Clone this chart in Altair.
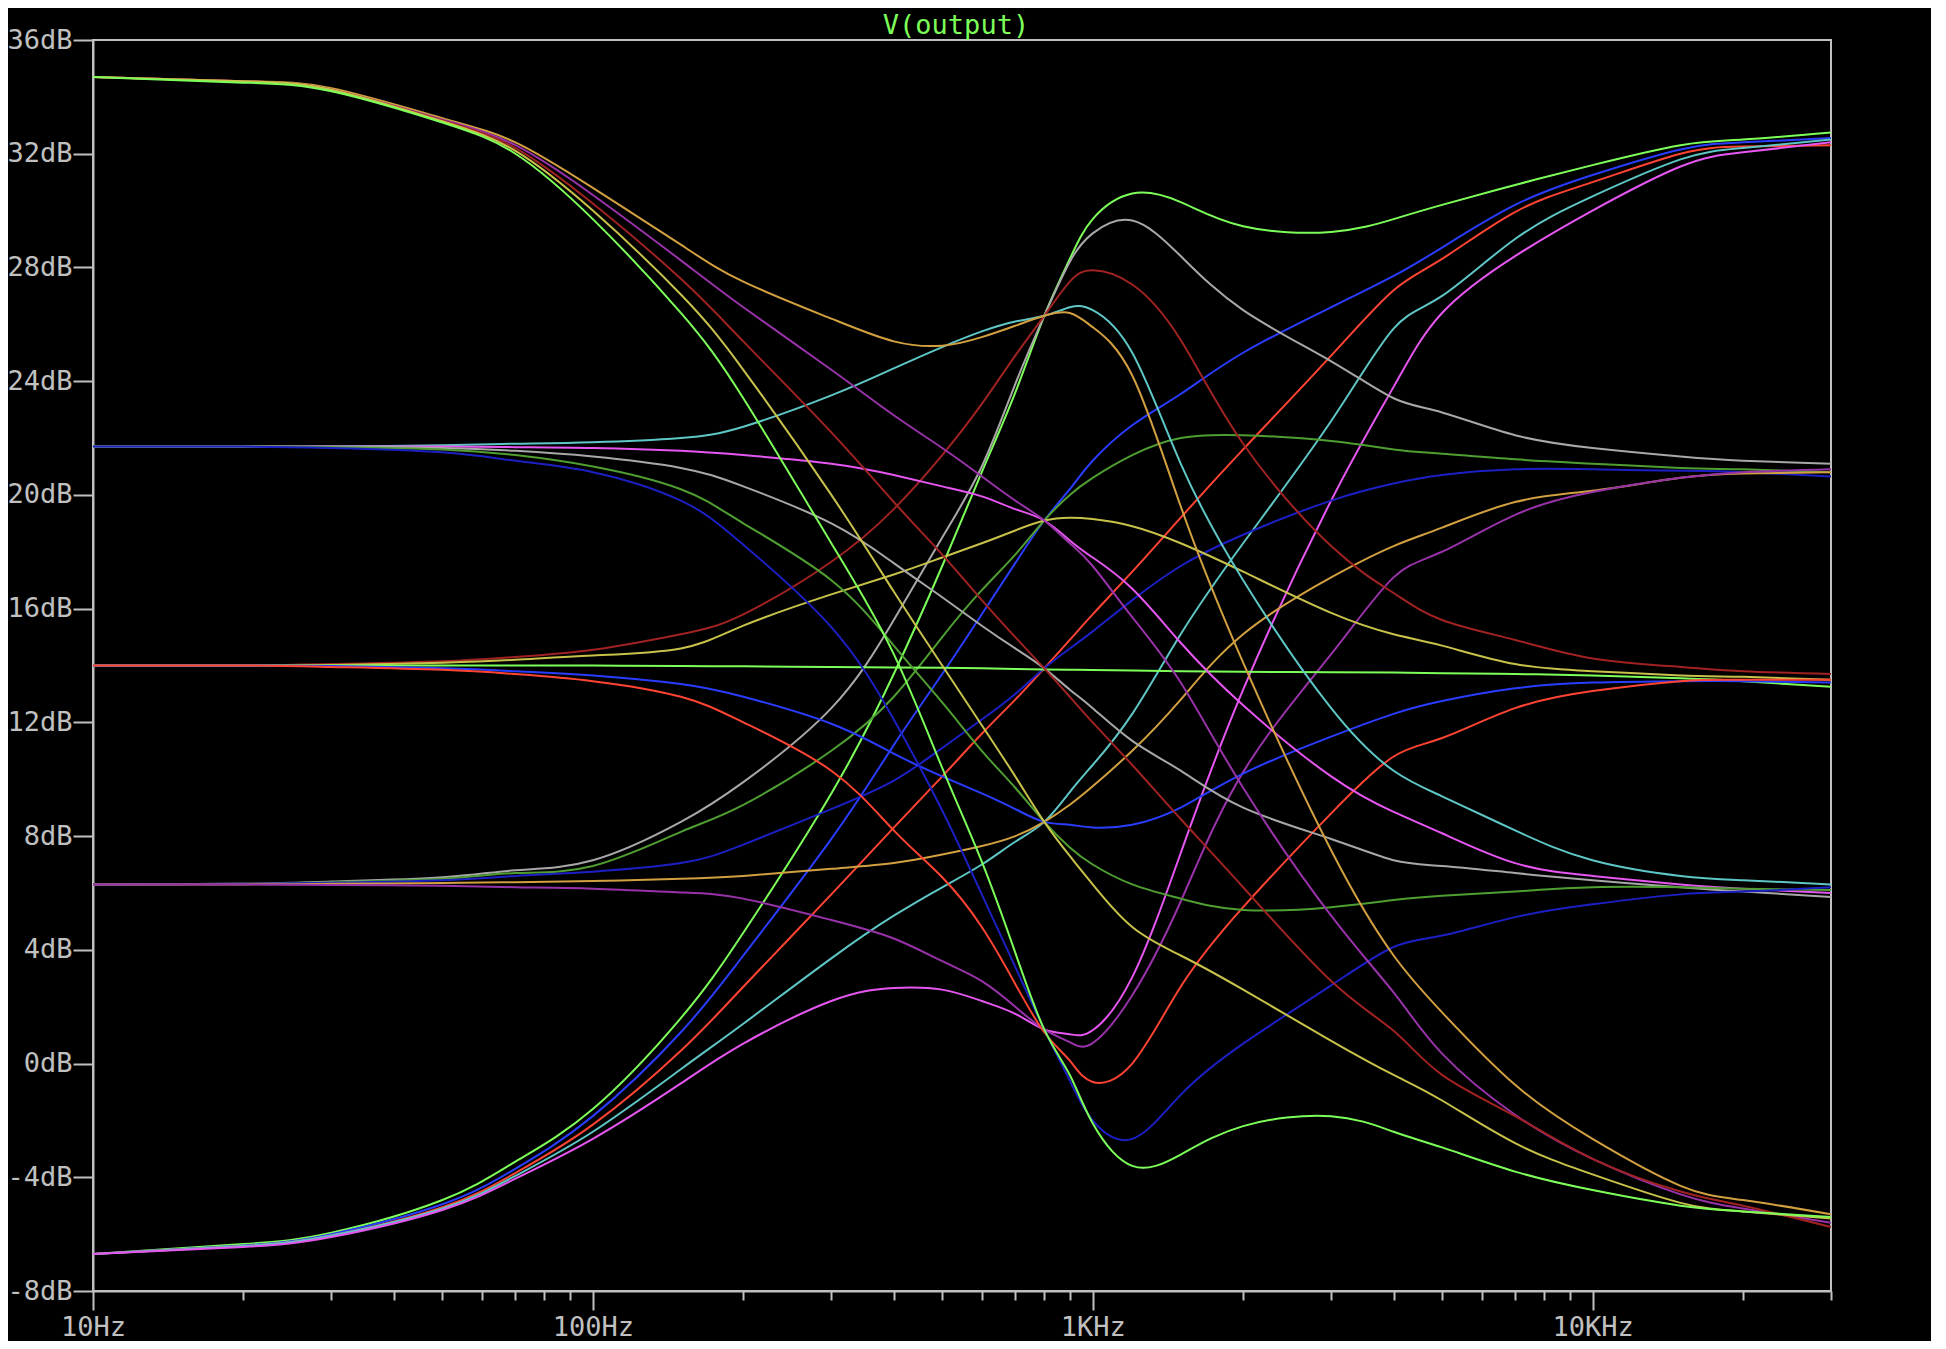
import altair as alt
import pandas as pd

# ---------------- data ----------------
FREQ = [10, 20, 30, 50, 70, 100, 150, 200, 300, 400, 500, 600, 700, 800, 900,
        1000, 1200, 1500, 2000, 3000, 4000, 5000, 7000, 10000, 15000, 20000, 30000]

# start level -6.7 dB
S00 = [-6.7, -6.35, -5.95, -4.8, -3.45, -1.6, 1.6, 4.6, 9.5, 13.7, 17.5, 20.8, 23.6, 26.3, 28.3,
       29.7, 30.6, 30.3, 29.45, 29.25, 29.7, 30.2, 30.9, 31.6, 32.3, 32.5, 32.75]
S01 = [-6.7, -6.4, -6.0, -4.95, -3.7, -1.85, 1.1, 3.8, 7.9, 11.2, 13.7, 15.8, 17.6, 19.1, 20.2,
       21.2, 22.45, 23.55, 25.0, 26.6, 27.7, 28.7, 30.2, 31.25, 32.15, 32.4, 32.55]
S02 = [-6.7, -6.42, -6.05, -5.05, -3.85, -2.15, 0.45, 2.7, 5.95, 8.3, 10.1, 11.6, 12.8, 13.9, 14.9,
       15.8, 17.3, 19.2, 21.6, 24.9, 27.2, 28.3, 29.95, 31.0, 32.0, 32.25, 32.3]
S03 = [-6.7, -6.42, -6.05, -5.1, -3.95, -2.4, -0.2, 1.4, 3.7, 5.2, 6.2, 7.0, 7.8, 8.5, 9.55,
       10.5, 12.3, 15.1, 18.3, 22.6, 25.85, 27.0, 29.0, 30.5, 31.8, 32.2, 32.5]
S04 = [-6.7, -6.45, -6.1, -5.15, -4.05, -2.65, -0.7, 0.7, 2.2, 2.66, 2.6, 2.2, 1.75, 1.2, 1.03,
       1.17, 3.04, 7.4, 13.15, 19.8, 23.8, 26.4, 28.4, 30.0, 31.55, 32.05, 32.4]
# start level 6.3 dB
S05 = [6.3, 6.32, 6.4, 6.55, 6.8, 7.15, 8.5, 9.9, 12.5, 15.6, 18.5, 21.0, 23.9, 26.3, 28.2,
       29.2, 29.65, 28.4, 26.5, 24.7, 23.4, 22.9, 22.1, 21.65, 21.35, 21.2, 21.1]
S06 = [6.3, 6.32, 6.38, 6.5, 6.7, 6.95, 8.15, 9.1, 11.0, 12.9, 15.0, 16.65, 17.9, 19.1, 20.0,
       20.6, 21.4, 22.0, 22.1, 21.9, 21.6, 21.45, 21.25, 21.1, 20.95, 20.9, 20.8]
S07 = [6.3, 6.32, 6.36, 6.45, 6.6, 6.75, 7.05, 7.7, 8.95, 9.95, 11.1, 12.1, 13.0, 13.9, 14.6,
       15.2, 16.3, 17.5, 18.6, 19.8, 20.4, 20.7, 20.9, 20.9, 20.85, 20.8, 20.65]
S08 = [6.3, 6.3, 6.32, 6.35, 6.38, 6.42, 6.5, 6.6, 6.85, 7.05, 7.35, 7.65, 8.0, 8.5, 9.1,
       9.75, 11.0, 12.8, 15.1, 17.1, 18.2, 18.85, 19.75, 20.15, 20.6, 20.75, 20.8]
S09 = [6.3, 6.3, 6.28, 6.25, 6.2, 6.15, 6.02, 5.8, 5.05, 4.4, 3.6, 2.9, 2.0, 1.2, 0.75,
       0.72, 2.4, 5.7, 10.25, 14.4, 17.1, 18.0, 19.3, 20.1, 20.6, 20.8, 20.9]
# start level 14 dB
S10 = [14.0, 14.0, 14.05, 14.15, 14.3, 14.55, 15.1, 15.8, 17.65, 19.5, 21.4, 23.2, 24.9, 26.3, 27.5,
       27.9, 27.4, 25.45, 21.8, 18.2, 16.55, 15.6, 14.9, 14.25, 13.95, 13.8, 13.7]
S11 = [14.0, 14.0, 14.02, 14.1, 14.2, 14.35, 14.6, 15.4, 16.5, 17.2, 17.8, 18.3, 18.75, 19.1, 19.2,
       19.15, 18.9, 18.3, 17.3, 15.85, 15.1, 14.7, 14.05, 13.8, 13.65, 13.6, 13.5]
S12 = [14.0, 14.0, 14.0, 14.0, 14.0, 14.0, 13.98, 13.97, 13.95, 13.93, 13.92, 13.9, 13.88, 13.86, 13.85,
       13.84, 13.82, 13.8, 13.78, 13.76, 13.75, 13.73, 13.7, 13.65, 13.55, 13.45, 13.25]
S13 = [14.0, 14.0, 13.98, 13.9, 13.8, 13.65, 13.35, 12.9, 11.95, 10.9, 10.1, 9.5, 8.95, 8.5, 8.4,
       8.3, 8.4, 9.0, 10.2, 11.5, 12.3, 12.75, 13.2, 13.4, 13.45, 13.45, 13.4]
S14 = [14.0, 14.0, 13.95, 13.85, 13.7, 13.45, 12.9, 12.0, 10.3, 8.2, 6.55, 4.8, 2.8, 1.1, 0.1,
       -0.65, 0.0, 2.7, 5.5, 8.8, 10.8, 11.45, 12.5, 13.1, 13.45, 13.5, 13.5]
# start level 21.7 dB
S15 = [21.7, 21.7, 21.7, 21.75, 21.8, 21.85, 22.0, 22.4, 23.5, 24.45, 25.2, 25.75, 26.1, 26.3, 26.6,
       26.5, 25.0, 21.1, 17.0, 12.5, 10.3, 9.4, 8.2, 7.15, 6.6, 6.45, 6.3]
S16 = [21.7, 21.7, 21.7, 21.7, 21.68, 21.65, 21.55, 21.4, 21.1, 20.7, 20.3, 19.95, 19.5, 19.1, 18.4,
       17.8, 16.7, 14.8, 12.6, 10.1, 8.85, 8.1, 7.05, 6.6, 6.3, 6.15, 6.0]
S17 = [21.7, 21.7, 21.7, 21.65, 21.55, 21.35, 20.95, 20.3, 19.0, 17.6, 16.4, 15.4, 14.6, 13.9, 13.15,
       12.5, 11.35, 10.3, 9.0, 7.9, 7.15, 6.95, 6.7, 6.45, 6.2, 6.05, 5.86]
S18 = [21.7, 21.7, 21.68, 21.6, 21.4, 21.0, 20.2, 19.0, 17.0, 14.7, 12.7, 11.0, 9.7, 8.5, 7.6,
       7.0, 6.3, 5.8, 5.4, 5.5, 5.75, 5.9, 6.05, 6.2, 6.2, 6.15, 6.1]
S19 = [21.7, 21.7, 21.65, 21.5, 21.2, 20.8, 19.8, 18.25, 15.35, 12.1, 8.9, 5.95, 3.4, 1.2, -0.6,
       -2.0, -2.65, -1.1, 0.7, 2.75, 4.1, 4.5, 5.15, 5.6, 5.95, 6.05, 6.2]
# start level 34.7 dB
S20 = [34.7, 34.55, 34.3, 33.25, 32.4, 30.8, 28.8, 27.5, 26.2, 25.4, 25.25, 25.55, 25.95, 26.3, 26.4,
       25.9, 24.2, 19.6, 14.1, 7.5, 3.8, 1.8, -0.75, -2.65, -4.3, -4.8, -5.3]
S21 = [34.7, 34.55, 34.25, 33.2, 32.3, 30.55, 28.25, 26.6, 24.4, 22.8, 21.65, 20.65, 19.8, 19.1, 18.3,
       17.5, 15.7, 13.4, 9.7, 5.2, 2.5, 0.35, -1.8, -3.35, -4.6, -5.1, -5.6]
S22 = [34.7, 34.55, 34.25, 33.17, 32.2, 30.25, 27.6, 25.4, 22.2, 19.75, 17.9, 16.3, 15.0, 13.9, 12.9,
       12.0, 10.5, 8.6, 6.2, 2.9, 1.15, -0.4, -1.85, -3.35, -4.5, -5.0, -5.75]
S23 = [34.7, 34.55, 34.25, 33.14, 32.1, 30.0, 27.05, 24.4, 20.0, 16.6, 14.0, 11.9, 10.1, 8.5, 7.3,
       6.3, 4.8, 3.8, 2.6, 0.8, -0.4, -1.3, -2.8, -3.9, -4.9, -5.2, -5.45]
S24 = [34.7, 34.5, 34.2, 33.1, 32.0, 29.7, 26.4, 23.4, 18.3, 14.4, 10.4, 7.1, 3.9, 1.2, -0.4,
       -2.1, -3.6, -3.2, -2.2, -1.85, -2.4, -2.95, -3.8, -4.45, -5.0, -5.2, -5.4]

CURVES = [S00, S01, S02, S03, S04, S05, S06, S07, S08, S09, S10, S11, S12,
          S13, S14, S15, S16, S17, S18, S19, S20, S21, S22, S23, S24]

# LTspice-like trace palette, cycled over the 25 steps
PALETTE = ["#7dff5a", "#2a3cff", "#ff4433", "#5fc6c6", "#e656f0", "#a8a8a8",
           "#4f9e32", "#1c20c4", "#d2a040", "#9832a8", "#a02222", "#c8c24a"]
STEP_NAMES = [f"s{i:02d}" for i in range(len(CURVES))]
STEP_COLORS = [PALETTE[i % len(PALETTE)] for i in range(len(CURVES))]

X_TICKS = [10, 20, 30, 40, 50, 60, 70, 80, 90,
           100, 200, 300, 400, 500, 600, 700, 800, 900,
           1000, 2000, 3000, 4000, 5000, 6000, 7000, 8000, 9000,
           10000, 20000, 30000]
X_MAJOR = [10, 100, 1000, 10000]
X_LABELS = ["10Hz", "100Hz", "1KHz", "10KHz"]
Y_TICKS = [-8, -4, 0, 4, 8, 12, 16, 20, 24, 28, 32, 36]

TITLE = "V(output)"

# ---------------- build ----------------
rows = []
for name, vals in zip(STEP_NAMES, CURVES):
    for f, v in zip(FREQ, vals):
        rows.append({"step": name, "freq": f, "db": v})
df = pd.DataFrame(rows)

AXIS_GRAY = "#c0c0c0"
FONT = "DejaVu Sans Mono"
GREEN = "#7dff5a"
W, H = 1738, 1251

x_label_expr = " : ".join(
    f"datum.value == {v} ? '{t}'" for v, t in zip(X_MAJOR, X_LABELS)) + " : ''"
major_test = "indexof([" + ",".join(str(v) for v in X_MAJOR) + "], datum.value) >= 0"

x_axis = alt.Axis(
    values=X_TICKS, labelExpr=x_label_expr, title=None, grid=False,
    tickSize={"condition": {"test": major_test, "value": 19}, "value": 9},
    tickColor=AXIS_GRAY, tickWidth=2, domainColor=AXIS_GRAY, domainWidth=2,
    labelColor=AXIS_GRAY, labelFont=FONT, labelFontSize=27, labelPadding=4,
    labelOverlap=False, labelFlush=False, labelBound=False)

y_axis = alt.Axis(
    values=Y_TICKS, labelExpr="datum.value + 'dB'", title=None, grid=False,
    tickSize=20, tickColor=AXIS_GRAY, tickWidth=2, domainColor=AXIS_GRAY, domainWidth=2,
    labelColor=AXIS_GRAY, labelFont=FONT, labelFontSize=27, labelPadding=1,
    labelOverlap=False, labelFlush=False, labelBound=False)

lines = alt.Chart(df).mark_line(strokeWidth=2, interpolate="natural", clip=True).encode(
    x=alt.X("freq:Q", scale=alt.Scale(type="log", domain=[10, 30000], nice=False), axis=x_axis),
    y=alt.Y("db:Q", scale=alt.Scale(domain=[-8, 36], nice=False, zero=False), axis=y_axis),
    color=alt.Color("step:N", scale=alt.Scale(domain=STEP_NAMES, range=STEP_COLORS), legend=None),
    order=alt.Order("freq:Q"),
)

title_text = alt.Chart(pd.DataFrame({"label": [TITLE]})).mark_text(
    font=FONT, fontSize=27, color=GREEN, align="center", baseline="middle"
).encode(text="label:N", x=alt.value(W / 2 - 6), y=alt.value(-14))

chart = alt.layer(lines, title_text).properties(
    width=W, height=H,
    padding={"left": 85, "top": 32, "right": 100, "bottom": 50},
    autosize=alt.AutoSizeParams(type="none"),
).configure(background="#000000").configure_view(stroke=AXIS_GRAY, strokeWidth=2)

chart.save("out.html", embed_options={"renderer": "svg", "actions": False})
